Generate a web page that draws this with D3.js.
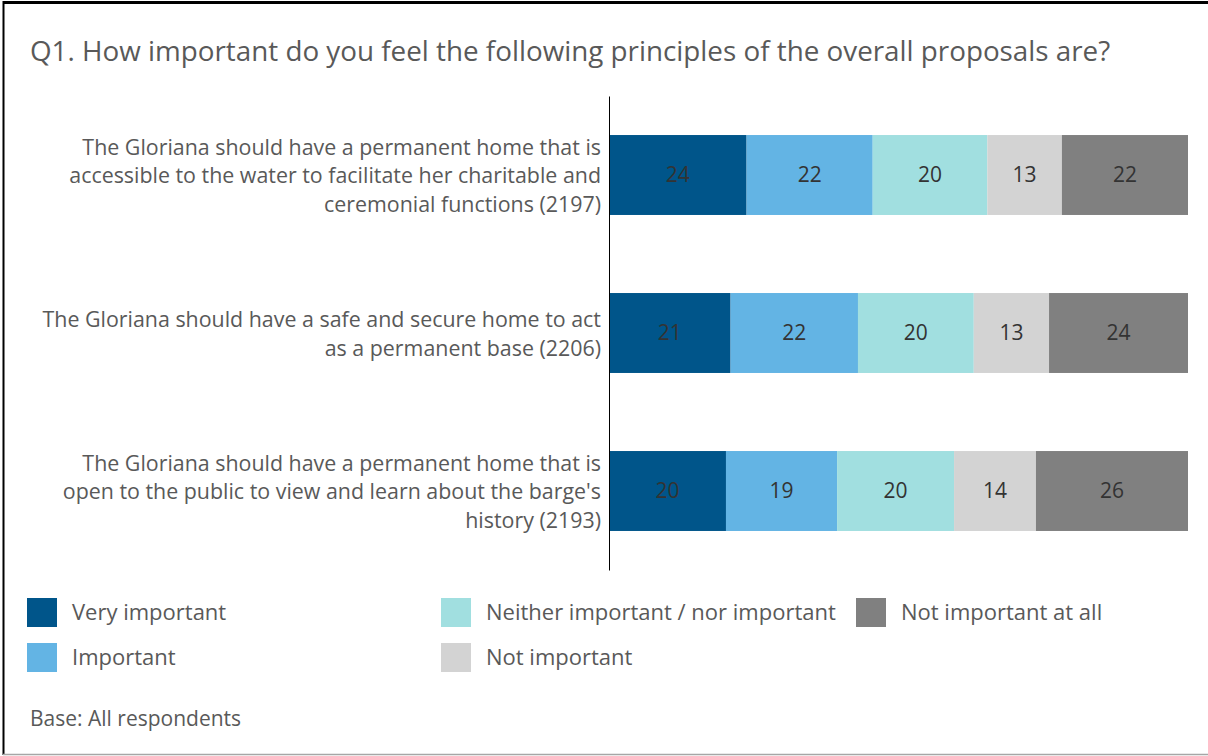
<!DOCTYPE html>
<html><head><meta charset="utf-8">
<script src="https://cdn.jsdelivr.net/npm/d3@7"></script>
<style>body{margin:0;background:#fff}svg{display:block;font-family:"Open Sans",sans-serif}</style>
</head><body><svg id="c" width="1208" height="756"></svg>
<script>
const title = "Q1. How important do you feel the following principles of the overall proposals are?";
const categories = [
  ["The Gloriana should have a permanent home that is","accessible to the water to facilitate her charitable and","ceremonial functions (2197)"],
  ["The Gloriana should have a safe and secure home to act","as a permanent base (2206)"],
  ["The Gloriana should have a permanent home that is","open to the public to view and learn about the barge's","history (2193)"]
];
const series = ["Very important","Important","Neither important / nor important","Not important","Not important at all"];
const colors = ["#00558a","#63b4e4","#a1dfe0","#d3d3d3","#808080"];
const veryImportant = [24,21,20];
const important = [22,22,19];
const neither = [20,20,20];
const notImportant = [13,13,14];
const notAtAll = [22,24,26];
const baseNote = "Base: All respondents";

const seriesValues = [veryImportant, important, neither, notImportant, notAtAll];
const rows = categories.map((c,i)=>{const o={id:i}; series.forEach((s,j)=>o[s]=seriesValues[j][i]); return o;});

const svg = d3.select("#c");
// frame
svg.append("line").attr("x1",3).attr("x2",1208).attr("y1",2.5).attr("y2",2.5).attr("stroke","#000").attr("stroke-width",3);
svg.append("line").attr("x1",3.5).attr("x2",3.5).attr("y1",1).attr("y2",755).attr("stroke","#000").attr("stroke-width",2);
svg.append("line").attr("x1",3).attr("x2",1208).attr("y1",754.5).attr("y2",754.5).attr("stroke","#a6a6a6").attr("stroke-width",1.5);

svg.append("text").attr("x",30).attr("y",61).attr("font-size",27.8).attr("fill","#595959").text(title);

const x = d3.scaleLinear().domain([0,1]).range([609,1188]);
const y = d3.scaleBand().domain(rows.map(d=>d.id)).range([96,570]).paddingInner(0.494).paddingOuter(0.247);

const stack = d3.stack().keys(series).offset(d3.stackOffsetExpand)(rows);

const g = svg.append("g");
stack.forEach((layer,j)=>{
  const lg = g.append("g");
  lg.selectAll("rect").data(layer).join("rect")
    .attr("x",d=>x(d[0])).attr("width",d=>x(d[1])-x(d[0]))
    .attr("y",d=>y(d.data.id)).attr("height",y.bandwidth())
    .attr("fill",colors[j]);
  lg.selectAll("text").data(layer).join("text")
    .attr("x",d=>(x(d[0])+x(d[1]))/2).attr("y",d=>y(d.data.id)+y.bandwidth()/2)
    .attr("dy","0.35em").attr("text-anchor","middle").attr("font-size",21).attr("fill","#333")
    .text(d=>d.data[series[j]]);
});

// axis line
const yAxis = d3.axisLeft(y).tickSize(0).tickFormat("");
const ax = svg.append("g").attr("transform","translate(609,0)").call(yAxis);
ax.select(".domain").attr("stroke","#000").attr("stroke-width",1);

// category labels
const lh = 28.5;
categories.forEach((lines,i)=>{
  const cy = y(i)+y.bandwidth()/2;
  const t = svg.append("text").attr("text-anchor","end").attr("font-size",21.4).attr("fill","#595959");
  lines.forEach((l,k)=>{
    t.append("tspan").attr("x",601).attr("y",cy + 1 + (k-(lines.length-1)/2)*lh).attr("dy","0.35em").text(l);
  });
});

// legend
const legendPos = [[27,598],[27,643],[441,598],[441,643],[856,598]];
series.forEach((s,j)=>{
  const [lx,ly]=legendPos[j];
  svg.append("rect").attr("x",lx).attr("y",ly).attr("width",30).attr("height",29).attr("fill",colors[j]);
  svg.append("text").attr("x",lx+45).attr("y",ly+14.5).attr("dy","0.35em").attr("font-size",22).attr("fill","#595959").text(s);
});

svg.append("text").attr("x",30).attr("y",719).attr("dy","0.35em").attr("font-size",21).attr("fill","#595959").text(baseNote);
</script></body></html>
